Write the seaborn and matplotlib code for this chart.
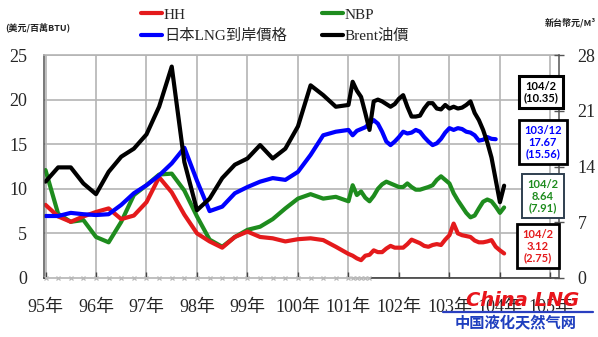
import pandas as pd
import matplotlib
matplotlib.use("Agg")
import matplotlib.pyplot as plt
from matplotlib.lines import Line2D
import seaborn as sns

# ---------------- data (ROC year / month) ----------------
quarters = [f"{y}/{m}" for y in range(95, 101) for m in (1, 4, 7, 10)]
months = [f"{y}/{m}" for y in range(101, 105) for m in range(1, 13)][:38]

hh_q = [8.2, 6.9, 6.3, 6.9, 7.4, 7.8, 6.6, 7.0, 8.5, 11.3, 9.6, 7.1,
        5.0, 4.1, 3.4, 4.6, 5.2, 4.6, 4.45, 4.1, 4.35, 4.45, 4.25, 3.5]
hh_m = [2.7, 2.5, 2.2, 2.0, 2.5, 2.6, 3.1, 2.9, 2.9, 3.3, 3.6, 3.4,
        3.4, 3.4, 3.8, 4.3, 4.1, 3.9, 3.6, 3.5, 3.7, 3.8, 3.7, 4.3,
        4.8, 6.1, 5.0, 4.8, 4.7, 4.6, 4.2, 4.0, 4.0, 4.1, 4.25, 3.5,
        3.1, 2.75]

nbp_q = [12.1, 7.2, 6.3, 6.5, 4.6, 4.0, 6.3, 9.3, 10.4, 11.6, 11.7, 9.8,
         6.9, 4.3, 3.5, 4.6, 5.4, 5.75, 6.6, 7.8, 8.9, 9.4, 8.9, 9.1]
nbp_m = [8.6, 10.4, 9.3, 9.7, 9.0, 8.6, 9.2, 10.0, 10.5, 10.8, 10.6, 10.4,
         10.2, 10.2, 10.6, 10.2, 9.9, 9.9, 10.05, 10.2, 10.4, 11.0, 11.4, 11.0,
         10.6, 9.5, 8.7, 8.0, 7.3, 6.8, 7.0, 7.8, 8.55, 8.8, 8.6, 8.0,
         7.3, 7.91]

jlng_q = [6.95, 6.95, 7.3, 7.15, 7.06, 7.15, 8.2, 9.5, 10.4, 11.5, 12.85, 14.6,
          10.9, 7.5, 8.0, 9.5, 10.2, 10.8, 11.2, 11.0, 11.9, 13.8, 16.0, 16.4]
jlng_m = [16.6, 16.0, 16.5, 16.7, 16.9, 17.3, 17.7, 17.3, 16.4, 15.3, 14.9, 15.3,
          15.8, 16.4, 16.2, 16.3, 16.6, 16.4, 15.8, 15.3, 14.9, 15.1, 15.6, 16.3,
          16.8, 16.6, 16.8, 16.7, 16.4, 16.3, 16.0, 15.4, 15.5, 15.8, 15.6, 15.56]

brent_q = [10.8, 12.4, 12.4, 10.6, 9.4, 11.9, 13.6, 14.5, 16.1, 19.2, 23.7, 13.0,
           7.6, 8.9, 11.2, 12.7, 13.4, 14.9, 13.4, 14.5, 17.0, 21.6, 20.5, 19.2]
brent_m = [19.4, 22.0, 21.0, 20.3, 18.5, 16.6, 19.8, 20.0, 19.8, 19.5, 19.2, 19.5,
           20.1, 20.5, 19.2, 18.1, 18.1, 18.2, 19.0, 19.6, 19.6, 19.0, 18.9, 19.4,
           19.0, 19.2, 19.0, 19.1, 19.4, 19.8, 18.5, 17.7, 16.6, 15.2, 13.5, 11.0,
           8.5, 10.35]

base_periods = quarters + months[:6]
base_vals = [0] * len(base_periods)

series_names = ["HH", "日本LNG到岸價格", "NBP", "Brent油價"]
series_colors = ["#E41A1C", "#0000FF", "#1E8C1E", "#000000"]
year_ticks = list(range(95, 106))
year_labels = [f"{y}年" for y in year_ticks]
left_ticks = [0, 5, 10, 15, 20, 25]
right_ticks = [0, 7, 14, 21, 28]

box_texts = ["104/2\n(10.35)", "103/12\n17.67\n(15.56)", "104/2\n8.64\n(7.91)", "104/2\n3.12\n(2.75)"]


def pos(p):
    y, m = p.split("/")
    return int(y) + (int(m) - 1) / 12


rows = []
for name, per, vals in [
    ("HH", quarters + months, hh_q + hh_m),
    ("NBP", quarters + months, nbp_q + nbp_m),
    ("日本LNG到岸價格", quarters + months[:36], jlng_q + jlng_m),
    ("Brent油價", quarters + months, brent_q + brent_m),
]:
    for p, v in zip(per, vals):
        rows.append((pos(p), v, name))
df = pd.DataFrame(rows, columns=["t", "v", "s"])
base = pd.DataFrame({"t": [pos(p) for p in base_periods], "v": base_vals})

# ---------------- style ----------------
sns.set_theme(style="whitegrid")
SERIF = ["Liberation Serif", "Noto Sans CJK TC"]
GRID = "#b4b4b4"
plt.rcParams["font.family"] = SERIF

W, H = 598, 337
fig = plt.figure(figsize=(W / 100, H / 100), dpi=100)
fig.patch.set_facecolor("white")
L, R, T, B = 44, 559, 55, 278
ax = fig.add_axes([L / W, 1 - B / H, (R - L) / W, (B - T) / H])
ax.set_axisbelow(True)

draw_order = ["NBP", "HH", "日本LNG到岸價格", "Brent油價"]
pal = dict(zip(series_names, series_colors))
sns.lineplot(data=df, x="t", y="v", hue="s", hue_order=draw_order, palette=pal,
             linewidth=3.0, estimator=None, sort=False, ax=ax, legend=False,
             solid_joinstyle="round", solid_capstyle="round")

sns.lineplot(data=base, x="t", y="v", color="#c4c4c4", marker="x", markersize=3.5,
             markeredgewidth=0.9, markeredgecolor="#b8b8b8", linewidth=1.4, ax=ax,
             zorder=4, clip_on=False, legend=False)

ax.set_xlim(94.97, 105.17)
ax.set_ylim(0, 25)
ax.set_xticks(year_ticks)
ax.set_xticklabels(year_labels)
ax.set_yticks(left_ticks)
ax.set_xlabel("")
ax.set_ylabel("")
ax.grid(True, which="major", axis="both", color=GRID, linewidth=1.2, linestyle="-")
ax.tick_params(axis="x", direction="in", length=4, width=1.0, color="#444444",
               labelsize=13, pad=15, bottom=True)
ax.tick_params(axis="y", length=0, labelsize=13, pad=12)
for lab in ax.get_xticklabels() + ax.get_yticklabels():
    lab.set_family(SERIF)
ax.spines["left"].set_color("#555555")
ax.spines["bottom"].set_color("#333333")
ax.spines["top"].set_color(GRID)
ax.spines["top"].set_linewidth(1.2)
ax.spines["left"].set_linewidth(1.1)
ax.spines["bottom"].set_linewidth(1.1)
ax.spines["right"].set_visible(False)

ax2 = ax.twinx()
ax2.set_ylim(0, 28)
ax2.set_yticks(right_ticks)
ax2.grid(False)
ax2.patch.set_visible(False)
ax2.tick_params(axis="y", direction="inout", length=7, width=1.0, color="#555555",
                labelsize=13, pad=10, right=True)
for lab in ax2.get_yticklabels():
    lab.set_family(SERIF)
ax2.spines["right"].set_color("#555555")
ax2.spines["right"].set_linewidth(1.1)
for k in ("left", "top", "bottom"):
    ax2.spines[k].set_visible(False)

# legend
leg_handles = [Line2D([0], [0], color=pal[n], lw=3) for n in series_names]
fig.legend(leg_handles, series_names, ncol=2, loc="upper left",
           bbox_to_anchor=(141 / W, 1 - 8 / H), frameon=False,
           prop={"family": SERIF, "size": 11}, handlelength=1.35,
           handletextpad=0.15, columnspacing=2.3, labelspacing=0.5,
           borderpad=0, borderaxespad=0)

# unit labels
fig.text(5 / W, 1 - 27 / H, "(美元/百萬BTU)", fontsize=6.5, fontweight="bold",
         family=["Noto Sans CJK TC"], va="center", ha="left", color="#222222")
fig.text(596 / W, 1 - 23 / H, "新台幣元/M³", fontsize=6.5, fontweight="bold",
         family=["Noto Sans CJK TC", "DejaVu Sans"], va="center", ha="right", color="#222222")

# value boxes
box_specs = [
    (541, 92, "#000000", "#000000", 2.2),
    (543, 142, "#0000FF", "#000000", 2.0),
    (543, 196, "#1E8C1E", "#2F3F4F", 1.4),
    (538, 246, "#E41A1C", "#000000", 2.0),
]
for txt, (x, y, tc, ec, lw) in zip(box_texts, box_specs):
    fig.text(x / W, 1 - y / H, txt, ha="center", va="center", color=tc,
             fontsize=8, fontweight="bold", family=["Lato", "DejaVu Sans"],
             linespacing=1.1, zorder=10,
             bbox=dict(boxstyle="square,pad=0.45", facecolor="white",
                       edgecolor=ec, linewidth=lw))

# watermark
fig.text(523 / W, 1 - 301 / H, "China LNG", ha="center", va="center", color="#E8141B",
         fontsize=14, fontweight="bold", style="italic", family=["DejaVu Sans"], zorder=11)
fig.add_artist(Line2D([443 / W, 593 / W], [1 - 312 / H, 1 - 312 / H],
                      color="#2a3fc0", lw=1.6, zorder=11))
fig.text(516 / W, 1 - 323 / H, "中国液化天然气网", ha="center", va="center", color="#1f3fbf",
         fontsize=11, fontweight="bold", family=["Noto Sans CJK SC"], zorder=11)

fig.savefig("out.png", dpi=100)
